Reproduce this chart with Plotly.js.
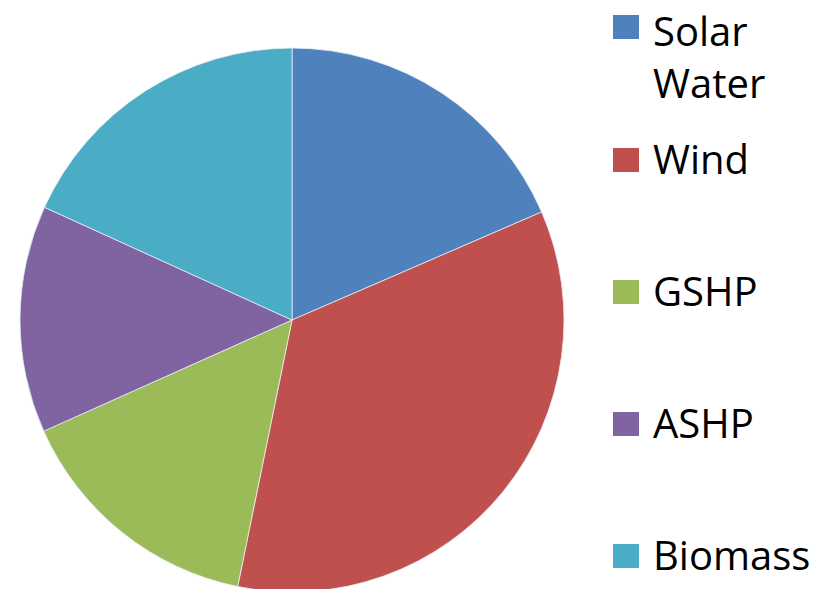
<!DOCTYPE html>
<html>
<head>
<meta charset="utf-8">
<script src="https://cdn.plot.ly/plotly-3.0.1.min.js"></script>
<style>
html, body { margin: 0; padding: 0; overflow: hidden; background: #ffffff; }
#chart { width: 827px; height: 620px; }
</style>
</head>
<body>
<div id="chart"></div>
<script>
// Data
const categories = ["Solar<br>Water", "Wind", "GSHP", "ASHP", "Biomass"];
const shares = [18.5, 34.7, 15.1, 13.5, 18.2];
const colors = ["#4F81BD", "#C0504D", "#9BBB59", "#8064A2", "#4BACC6"];

const W = 827, H = 620;
const px = x => x / W;
const py = y => (H - y) / H;

// legend layout (pixel centres of the legend keys)
const keyCentres = [27, 160, 292, 424, 556];
const textCentres = [57, 158, 290, 422, 554];

const shapes = [];
const annotations = [];
categories.forEach((c, i) => {
  shapes.push({
    type: "rect", xref: "paper", yref: "paper",
    x0: px(613), x1: px(639),
    y0: py(keyCentres[i] - 12), y1: py(keyCentres[i] + 12),
    fillcolor: colors[i], line: { width: 0 }
  });
  annotations.push({
    xref: "paper", yref: "paper",
    x: px(652), y: py(textCentres[i]),
    xanchor: "left", yanchor: "middle", align: "left",
    borderpad: 0,
    text: c, showarrow: false,
    font: { family: "Open Sans, sans-serif", size: 40, color: "#000000" }
  });
});

const trace = {
  type: "pie",
  labels: categories,
  values: shares,
  sort: false,
  direction: "clockwise",
  rotation: 0,
  textinfo: "none",
  hoverinfo: "label+percent",
  showlegend: false,
  marker: { colors: colors, line: { color: "#e8eef5", width: 0.8 } },
  domain: { x: [20 / W, 564 / W], y: [py(592), py(48)] }
};

const layout = {
  width: W, height: H,
  margin: { l: 0, r: 0, t: 0, b: 0 },
  paper_bgcolor: "#ffffff",
  plot_bgcolor: "#ffffff",
  showlegend: false,
  shapes: shapes,
  annotations: annotations
};

Plotly.newPlot("chart", [trace], layout, { displayModeBar: false, staticPlot: true });
</script>
</body>
</html>
